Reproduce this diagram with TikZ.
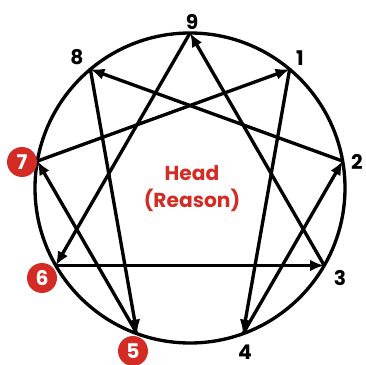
\documentclass[tikz,border=0pt]{standalone}
\usepackage{fontspec}
\setmainfont{Poppins}
\usepackage{xcolor}
\usepackage{tikz}
\usetikzlibrary{arrows.meta,calc}
\definecolor{headred}{RGB}{212,43,37}

\begin{document}
\begin{tikzpicture}[
    ring/.style={line width=1.9pt},
    arrow/.style={-{Latex[length=2.8mm,width=2.3mm]}, line width=1.9pt},
    num/.style={font=\fontsize{11.5}{13}\selectfont\bfseries, inner sep=0pt},
    rednum/.style={circle, fill=headred, text=white, minimum size=0.6cm, inner sep=0pt, font=\fontsize{11.5}{13}\selectfont\bfseries},
    centre/.style={text=headred, align=center, font=\fontsize{11.5}{15.3}\selectfont\bfseries}
]
\useasboundingbox (0,0) rectangle (7.3,7.3);
\coordinate (c) at (3.8,3.54);
\draw[ring] (c) circle (3.1);
\foreach \n/\a in {9/90,1/50,2/10,3/-30,4/-70,5/-110,6/-150,7/170,8/130}{\coordinate (v\n) at ($(c)+(\a:3.1)$);}

% numbers round the circle
\node[num] (n9) at (3.84,6.86) {9};
\node[num] (n1) at (6.00,6.14) {1};
\node[num] (n2) at (7.14,4.06) {2};
\node[num] (n3) at (6.80,1.74) {3};
\node[num] (n4) at (4.90,0.26) {4};
\node[num] (n8) at (1.54,6.16) {8};
\node[rednum] (n5) at (2.66,0.28) {5};
\node[rednum] (n6) at (0.84,1.74) {6};
\node[rednum] (n7) at (0.44,4.06) {7};

\node[centre] (head) at (3.84,3.53) {Head\\(Reason)};

\foreach \a/\b in {1/4,4/2,2/8,8/5,5/7,7/1,9/6,6/3,3/9}{\draw[arrow] (v\a) -- (v\b);}
\end{tikzpicture}
\end{document}
